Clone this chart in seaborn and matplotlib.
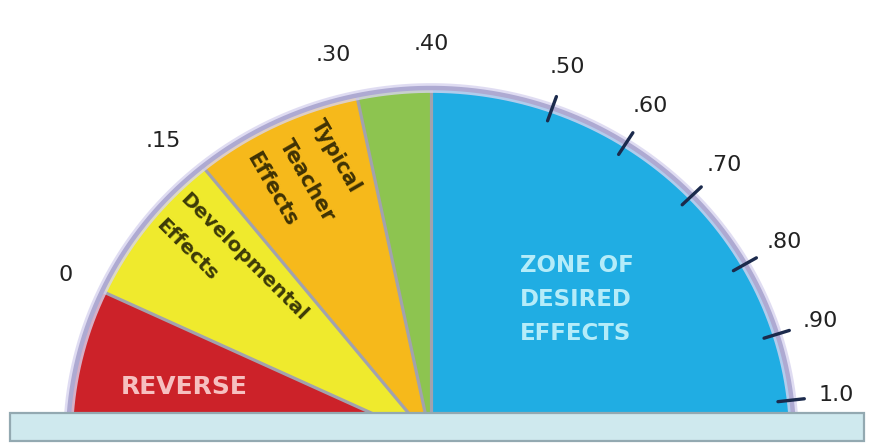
import numpy as np
import pandas as pd
import matplotlib
matplotlib.use("Agg")
import matplotlib.pyplot as plt
from matplotlib.patches import Rectangle
import seaborn as sns

# ---------------- data ----------------
zone_names = ["REVERSE", "Developmental\nEffects", "Typical\nTeacher\nEffects", "", "ZONE OF\nDESIRED\nEFFECTS"]
zone_starts = [-0.20, 0.00, 0.15, 0.30, 0.40]
zone_ends = [0.00, 0.15, 0.30, 0.40, 1.05]
zone_colors = ["#cc2229", "#efea2d", "#f6b91b", "#8dc450", "#20ade3"]
tick_values = [0.00, 0.15, 0.30, 0.40, 0.50, 0.60, 0.70, 0.80, 0.90, 1.00]
tick_labels = ["0", ".15", ".30", ".40", ".50", ".60", ".70", ".80", ".90", "1.0"]
marked_ticks = [0.50, 0.60, 0.70, 0.80, 0.90, 1.00]

# dial scale: effect-size value -> angle on the half dial (degrees)
DIAL_V = [-0.20, 0.00, 0.15, 0.30, 0.40, 0.50, 0.60, 0.70, 0.80, 0.90, 1.00, 1.05]
DIAL_A = [180.0, 155.0, 129.0, 101.8, 90.0, 70.5, 57.5, 44.0, 30.0, 17.5, 6.5, 0.0]

# ---------------- layout ----------------
W, H = 872, 446
CX, CY = 431.0, 440.0
RX, RY = 363.0, 352.0
BAR_TOP = 413.0


def ang(v):
    return np.interp(v, DIAL_V, DIAL_A)


def pt(a_deg, r=1.0):
    a = np.deg2rad(a_deg)
    return CX + r * RX * np.cos(a), CY - r * RY * np.sin(a)


sns.set_theme(style="white")
plt.rcParams["font.family"] = ["DejaVu Sans"]

fig = plt.figure(figsize=(W / 100, H / 100), dpi=100)
ax = fig.add_axes([0, 0, 1, 1])

# sectors
for s, e, c in zip(zone_starts, zone_ends, zone_colors):
    a = np.linspace(ang(s), ang(e), 120)
    xs, ys = pt(a)
    ax.fill(np.r_[CX, xs], np.r_[CY, ys], color=c, lw=0, zorder=1)

# sector separators
for b in zone_starts[1:]:
    x1, y1 = pt(ang(b))
    ax.plot([CX, x1], [CY, y1], color="#a2a2ae", lw=2.3, zorder=2,
            solid_capstyle="butt")

# rim (stops at the top of the base bar)
a_cut = np.rad2deg(np.arcsin((CY - BAR_TOP) / RY))
arc = np.linspace(a_cut, 180 - a_cut, 400)
rx_, ry_ = pt(arc)
ax.plot(rx_, ry_, color="#d8d4ef", lw=7, zorder=2.5, alpha=0.8,
        solid_capstyle="butt")
ax.plot(rx_, ry_, color="#aeaad2", lw=3.2, zorder=3, solid_capstyle="butt")

# tick marks (seaborn)
rows = []
for i, v in enumerate(marked_ticks):
    for r in (0.962, 1.035):
        x, y = pt(ang(v), r)
        rows.append({"tick": i, "x": x, "y": y})
tick_df = pd.DataFrame(rows)
sns.lineplot(data=tick_df, x="x", y="y", units="tick", estimator=None,
             sort=False, color="#1b2a4c", lw=2.4, ax=ax, zorder=4)

# tick labels (.15 and .30 sit slightly counter-clockwise of their boundary)
for v, lab in zip(tick_values, tick_labels):
    a = ang(v) + (2.0 if 0 < v < 0.40 else 0.0)
    r = 1.11 if v == 0 else 1.125
    x, y = pt(a, r)
    ax.text(x, y, lab, ha="center", va="center", fontsize=16,
            color="#222222", zorder=6)

# base bar
ax.add_patch(Rectangle((10, BAR_TOP), 854, 28, facecolor="#cfe9ee",
                       edgecolor="#93a9b1", lw=1.6, zorder=5))

# zone labels
ax.text(184, 387, zone_names[0], ha="center", va="center", fontsize=18,
        fontweight="bold", color="#f6c0c0", zorder=6)
for line, (x, y) in zip(zone_names[1].split("\n"), [(183, 196), (159, 222)]):
    ax.text(x, y, line, ha="left", va="center", rotation=-45,
            rotation_mode="anchor", fontsize=14.5, fontweight="bold",
            color="#3c3a08", zorder=6)
for line, (x, y) in zip(zone_names[2].split("\n"), [(316, 121), (284, 141), (251, 154)]):
    ax.text(x, y, line, ha="left", va="center", rotation=-60,
            rotation_mode="anchor", fontsize=15, fontweight="bold",
            color="#3f3204", zorder=6)
for line, y in zip(zone_names[4].split("\n"), [266, 300, 334]):
    ax.text(520, y, line, ha="left", va="center", fontsize=16.5,
            fontweight="bold", color="#b5ecf9", zorder=6)

ax.set_xlim(0, W)
ax.set_ylim(H, 0)
ax.axis("off")
fig.savefig("out.png", dpi=100, facecolor="white")
